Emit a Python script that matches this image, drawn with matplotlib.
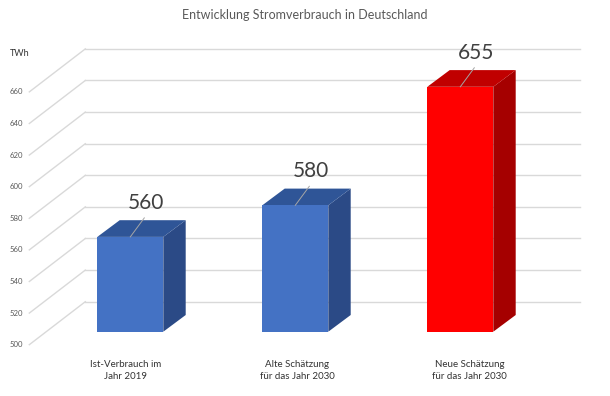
import matplotlib
matplotlib.use("Agg")
import matplotlib.pyplot as plt
from matplotlib.patches import Polygon

# ---- data ----
categories = ["Ist-Verbrauch im\nJahr 2019",
              "Alte Schätzung\nfür das Jahr 2030",
              "Neue Schätzung\nfür das Jahr 2030"]
values = [560, 580, 655]
tick_values = [500, 520, 540, 560, 580, 600, 620, 640, 660]
title = "Entwicklung Stromverbrauch in Deutschland"
unit = "TWh"

# ---- style ----
plt.rcParams["font.family"] = ["Lato", "DejaVu Sans"]
W, H = 610, 396
front_cols = ["#4472C4", "#4472C4", "#FF0000"]
top_cols = ["#2F5597", "#2F5597", "#C00000"]
side_cols = ["#2B4A86", "#2B4A86", "#A50000"]
grid_col = "#D9D9D9"

fig = plt.figure(figsize=(W / 100, H / 100), dpi=100)
ax_l, ax_b, ax_w, ax_h = 47.8, 64.3, 495.0, 284.4
ax = fig.add_axes([ax_l / W, ax_b / H, ax_w / W, ax_h / H])
ymin, ymax = 500, 680
ax.set_xlim(-0.5, len(values) - 0.5)
ax.set_ylim(ymin, ymax)
ax.axis("off")

px_x = ax_w / (len(values))
px_y = ax_h / (ymax - ymin)

# depth offsets in pixels (x right, y up), relative to bar front plane
D_FRONT = (-18.5, -13.0)
D_BAR0 = (0.0, 0.0)
D_BAR1 = (22.4, 16.7)
D_BACK = (37.5, 30.0)


def P(x, v, d, ex=0.0, ey=0.0):
    return (x + (d[0] + ex) / px_x, v + (d[1] + ey) / px_y)


x0, x1 = -0.5, len(values) - 0.5
for v in tick_values:
    a = P(x0, v, D_BACK)
    b = P(x1, v, D_BACK)
    ax.plot([a[0], b[0]], [a[1], b[1]], color=grid_col, lw=1.0, clip_on=False, zorder=1)
    f = P(x0, v, D_FRONT)
    ax.plot([f[0], a[0]], [f[1], a[1]], color=grid_col, lw=1.0, clip_on=False, zorder=1)
    t = P(x0, v, D_FRONT, ex=-6)
    ax.text(t[0], t[1], str(v), ha="right", va="center", fontsize=5.6,
            color="#595959")

hw = 0.2
for i, v in enumerate(values):
    xl, xr = i - hw, i + hw
    side = [P(xr, ymin, D_BAR0), P(xr, v, D_BAR0), P(xr, v, D_BAR1), P(xr, ymin, D_BAR1)]
    top = [P(xl, v, D_BAR0), P(xr, v, D_BAR0), P(xr, v, D_BAR1), P(xl, v, D_BAR1)]
    front = [P(xl, ymin, D_BAR0), P(xr, ymin, D_BAR0), P(xr, v, D_BAR0), P(xl, v, D_BAR0)]
    ax.add_patch(Polygon(side, closed=True, fc=side_cols[i], ec="none", zorder=3, clip_on=False))
    ax.add_patch(Polygon(top, closed=True, fc=top_cols[i], ec="none", zorder=3, clip_on=False))
    ax.add_patch(Polygon(front, closed=True, fc=front_cols[i], ec="none", zorder=4, clip_on=False))
    s = P(i, v, D_BAR0)
    e = P(i, v, D_BAR0, ex=14, ey=19)
    ax.plot([s[0], e[0]], [s[1], e[1]], color="#A6A6A6", lw=0.7, zorder=5, clip_on=False)
    lab = P(i, v, D_BAR0, ex=15.5, ey=34)
    ax.text(lab[0], lab[1], str(v), ha="center", va="center", fontsize=15,
            color="#404040", zorder=6)
    cl = P(i * 1.043 - 0.03, ymin, D_BAR0, ey=-38.6)
    ax.text(cl[0], cl[1], categories[i], ha="center", va="center", fontsize=7.0,
            color="#333333", linespacing=1.35)

fig.text(10 / W, 1 - 53 / H, unit, ha="left", va="center", fontsize=6.5, color="#333333")
fig.text(0.5, 1 - 15 / H, title, ha="center", va="center", fontsize=9.0, color="#595959")

fig.savefig("out.png", dpi=100)
